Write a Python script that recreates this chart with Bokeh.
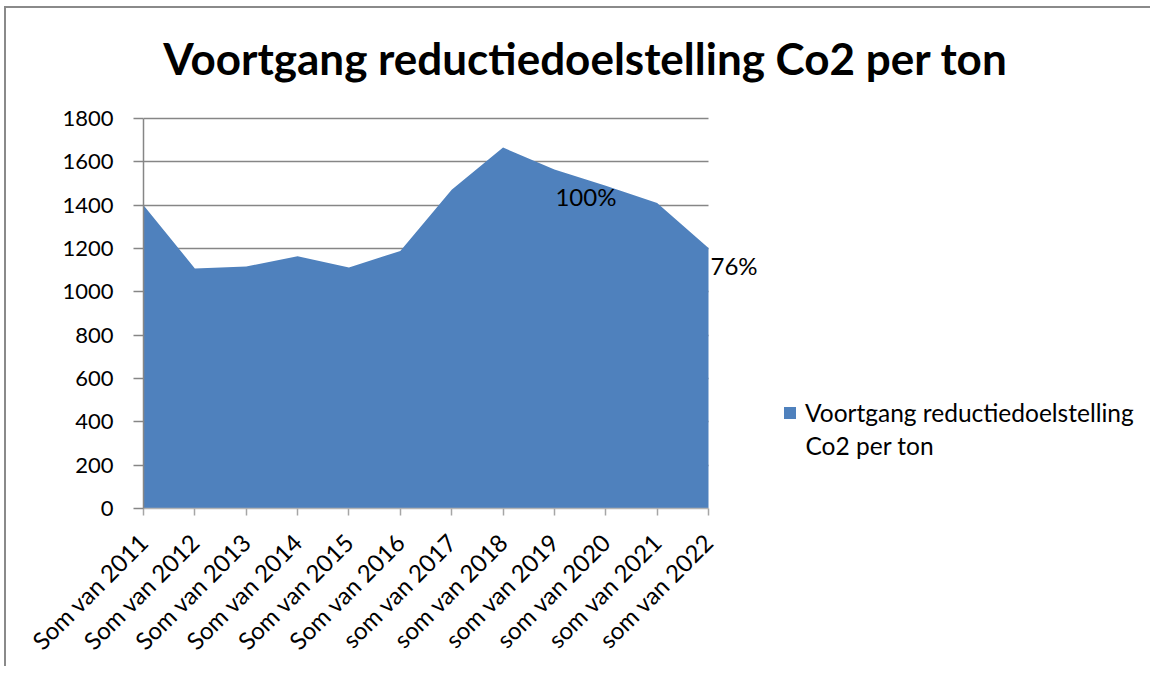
from bokeh.plotting import figure
from bokeh.models import (ColumnDataSource, FixedTicker, Range1d, Legend, LegendItem,
                          LabelSet, Label)
from bokeh.core.properties import value
from bokeh.embed import file_html
from bokeh.resources import INLINE
from math import pi

categories = ["Som van 2011", "Som van 2012", "Som van 2013", "Som van 2014",
              "Som van 2015", "Som van 2016", "som van 2017", "som van 2018",
              "som van 2019", "som van 2020", "som van 2021", "som van 2022"]
values = [1400, 1108, 1117, 1164, 1112, 1189, 1471, 1666, 1565, 1490, 1410, 1202]
label_index = [8, 11]
label_texts = ["100%", "76%"]
y_ticks = [0, 200, 400, 600, 800, 1000, 1200, 1400, 1600, 1800]
title_text = "Voortgang reductiedoelstelling Co2 per ton"
series_line1 = "Voortgang reductiedoelstelling"
series_line2 = "Co2 per ton"

# ---- styling / layout ----
FONT = "Lato"
GRAY = "#868686"
BLUE = "#4F81BD"
W, H = 1146, 660
LEFT, BOTTOM = 137, 160
FRAME_LEFT_PAGE, FRAME_BOTTOM_PAGE = 143, 508
PX_PER_CAT = 565 / 11        # horizontal pixels between categories
PX_PER_UNIT = 390 / 1800     # vertical pixels per value unit
label_dx = [1, 2]
label_dy = [-27, -17]


def page_x(px):
    return (px - FRAME_LEFT_PAGE) / PX_PER_CAT


def page_y(py):
    return (FRAME_BOTTOM_PAGE - py) / PX_PER_UNIT


n = len(categories)
xs = list(range(n))
y_max = y_ticks[-1]
frame_w = W - LEFT
frame_h = H - BOTTOM
x_end = frame_w / PX_PER_CAT
y_end = frame_h / PX_PER_UNIT

src = ColumnDataSource(dict(x=xs, y=values, y0=[0] * n))

p = figure(width=W, height=H, output_backend="svg", toolbar_location=None,
           title=None,
           x_range=Range1d(0, x_end), y_range=Range1d(0, y_end),
           min_border_left=LEFT, min_border_top=0, min_border_bottom=BOTTOM,
           min_border_right=0)
p.background_fill_color = "white"
p.border_fill_color = "white"
p.outline_line_color = None
p.styles = {"margin-left": "4px", "margin-top": "6px",
            "border-left": "2px solid #8a8a8a", "border-top": "2px solid #8a8a8a",
            "border-right": "0px none", "border-bottom": "0px none"}

area = p.varea(x="x", y1="y0", y2="y", source=src, fill_color=BLUE)

# y axis
p.yaxis.ticker = FixedTicker(ticks=y_ticks)
p.yaxis.bounds = (0, y_max)
p.yaxis.axis_line_color = GRAY
p.yaxis.axis_line_width = 1.5
p.yaxis.major_tick_line_color = GRAY
p.yaxis.major_tick_line_width = 1.5
p.yaxis.major_tick_out = 10
p.yaxis.major_tick_in = 0
p.yaxis.minor_tick_line_color = None
p.yaxis.major_label_text_font = FONT
p.yaxis.major_label_text_font_size = "22px"
p.yaxis.major_label_text_color = "black"
p.yaxis.major_label_standoff = 20

# x axis
p.xaxis.ticker = FixedTicker(ticks=xs)
p.xaxis.bounds = (0, n - 1)
p.xaxis.major_label_overrides = {i: c for i, c in enumerate(categories)}
p.xaxis.major_label_orientation = pi / 4
p.xaxis.axis_line_color = "#b4b4b4"
p.xaxis.axis_line_width = 1.5
p.xaxis.major_tick_line_color = "#a6a6a6"
p.xaxis.major_tick_line_width = 1.5
p.xaxis.major_tick_out = 7
p.xaxis.major_tick_in = 0
p.xaxis.minor_tick_line_color = None
p.xaxis.major_label_text_font = FONT
p.xaxis.major_label_text_font_size = "24px"
p.xaxis.major_label_text_color = "black"
p.xaxis.major_label_standoff = 22

# grid
p.xgrid.grid_line_color = None
grid = p.ygrid[0]
if "cross_bounds" in grid.properties():
    grid.ticker = FixedTicker(ticks=y_ticks)
    grid.cross_bounds = (0, n - 1)
    grid.grid_line_color = GRAY
    grid.grid_line_width = 1.5
    grid.level = "underlay"
else:
    grid.grid_line_color = None
    p.segment(x0=[0] * len(y_ticks), x1=[n - 1] * len(y_ticks), y0=y_ticks, y1=y_ticks,
              line_color=GRAY, line_width=1.5, level="underlay")

# data labels
lsrc = ColumnDataSource(dict(x=[xs[i] for i in label_index],
                             y=[values[i] for i in label_index],
                             t=label_texts, dx=label_dx, dy=label_dy))
labels = LabelSet(x="x", y="y", text="t", source=lsrc, x_offset="dx", y_offset="dy",
                  text_font=value(FONT), text_font_size=value("24px"),
                  text_color="black", text_align="left", text_baseline="middle")
p.add_layout(labels)

# title (centred over whole chart)
p.add_layout(Label(x=page_x(585), y=page_y(57), text=title_text, text_font=FONT,
                   text_font_style="bold", text_font_size="44px",
                   text_align="center", text_baseline="alphabetic",
                   text_color="black"))

# legend: square + first line, second line as wrapped continuation
legend = Legend(items=[LegendItem(label=series_line1, renderers=[area])],
                location=(639, 81), border_line_color=None,
                background_fill_alpha=0, label_text_font=FONT,
                label_text_font_size="24.5px", label_text_color="black",
                glyph_width=15, glyph_height=15,
                margin=0, padding=0, spacing=0, label_standoff=8)
p.add_layout(legend)
p.add_layout(Label(x=page_x(805), y=page_y(445), text=series_line2, text_font=FONT,
                   text_font_size="24.5px", text_align="left", text_baseline="middle",
                   text_color="black"))

open("out.html", "w").write(file_html(p, INLINE))
